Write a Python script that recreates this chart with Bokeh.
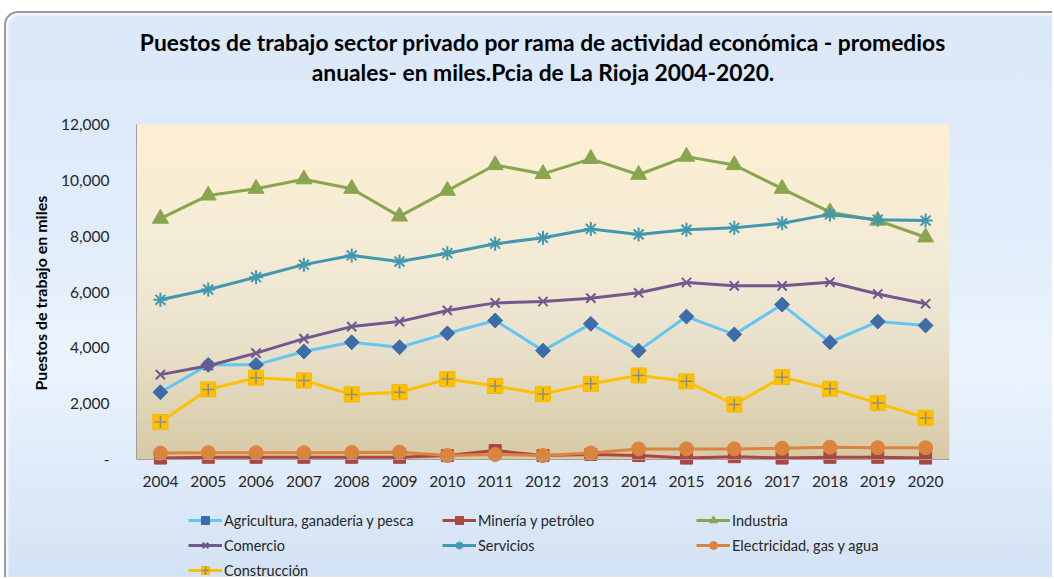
from bokeh.plotting import figure
from bokeh.models import (Range1d, BoxAnnotation, Legend, LegendItem, Title,
                          NumeralTickFormatter, FixedTicker)
from bokeh.embed import file_html
from bokeh.resources import INLINE

years = ["2004", "2005", "2006", "2007", "2008", "2009", "2010", "2011", "2012",
         "2013", "2014", "2015", "2016", "2017", "2018", "2019", "2020"]

agricultura = [2410, 3390, 3390, 3870, 4200, 4020, 4520, 4980, 3900, 4860, 3900,
               5120, 4480, 5550, 4200, 4940, 4800]
mineria = [50, 80, 80, 80, 80, 80, 140, 320, 140, 180, 140, 50, 100, 50, 80, 80, 50]
industria = [8630, 9460, 9700, 10040, 9700, 8710, 9630, 10550, 10230, 10770, 10200,
             10850, 10550, 9700, 8860, 8560, 7960]
comercio = [3040, 3360, 3810, 4330, 4760, 4940, 5340, 5610, 5660, 5780, 5970,
            6340, 6220, 6220, 6350, 5930, 5580]
servicios = [5720, 6090, 6530, 6980, 7310, 7090, 7390, 7730, 7940, 8260, 8060,
             8230, 8300, 8460, 8780, 8590, 8560]
electricidad = [230, 240, 240, 240, 250, 260, 140, 180, 140, 230, 380, 380, 380,
                400, 440, 420, 420]
construccion = [1340, 2510, 2930, 2830, 2330, 2410, 2880, 2630, 2350, 2710, 3010,
                2800, 1970, 2950, 2530, 2020, 1490]

y_ticks = [0, 2000, 4000, 6000, 8000, 10000, 12000]
y_max = 12000
title_lines = ["Puestos de trabajo sector privado por rama de actividad económica - promedios",
               "anuales- en miles.Pcia de La Rioja 2004-2020."]
y_label = "Puestos de trabajo en miles"

series = [
    ("Agricultura, ganadería y pesca", agricultura, "#63C6F2", "#3E6CA8"),
    ("Minería y petróleo", mineria, "#AA4643", "#AA4643"),
    ("Industria", industria, "#89A54E", "#89A54E"),
    ("Comercio", comercio, "#71588F", "#71588F"),
    ("Servicios", servicios, "#4198AF", "#4198AF"),
    ("Electricidad, gas y agua", electricidad, "#DB843D", "#DB843D"),
    ("Construcción", construccion, "#FFC000", "#FFC000"),
]

FONT = "Lato"

# layout geometry (pixels): plot area 335 px tall, 120 px of room below zero
AREA_H = 335
BELOW = 120
y_start = -y_max * BELOW / AREA_H

p = figure(width=1048, height=566, x_range=years, y_range=Range1d(y_start, y_max),
           output_backend="svg", toolbar_location=None,
           min_border_left=130, min_border_right=105, min_border_top=111,
           min_border_bottom=0)
p.styles = {"margin-left": "4px", "margin-top": "11px",
            "background": "linear-gradient(to bottom, #dbe8f8 0%, #e2edfb 40%, #ebf4fe 62%, #d3e2f5 100%)",
            "border-left": "2px solid #9c9c9c", "border-top": "2px solid #9c9c9c",
            "border-top-left-radius": "14px",
            "box-shadow": "inset 2px 2px 3px rgba(255,255,255,0.8)"}
p.border_fill_alpha = 0
p.background_fill_alpha = 0
p.outline_line_color = None

# plot-area gradient (style only)
stops = [(0.0, (214, 201, 165)), (0.35, (233, 225, 203)), (0.6, (243, 235, 214)),
         (1.0, (253, 239, 211))]
nb = 60
for i in range(nb):
    f = (i + 0.5) / nb
    for j in range(len(stops) - 1):
        if stops[j][0] <= f <= stops[j + 1][0]:
            t = (f - stops[j][0]) / (stops[j + 1][0] - stops[j][0])
            c = tuple(int(round(stops[j][1][k] + t * (stops[j + 1][1][k] - stops[j][1][k]))) for k in range(3))
            break
    lo = y_max * i / nb
    hi = min(y_max, y_max * (i + 1) / nb + 30)
    p.add_layout(BoxAnnotation(bottom=lo, top=hi, fill_color="#%02x%02x%02x" % c,
                               fill_alpha=1, line_alpha=0, level="underlay"))

p.grid.grid_line_color = None
p.ygrid.grid_line_color = "#8C8C8C"
p.ygrid.grid_line_width = 1
p.ygrid.ticker = FixedTicker(ticks=y_ticks[1:])
p.yaxis.ticker = FixedTicker(ticks=y_ticks)
p.yaxis.formatter = NumeralTickFormatter(format="0,0")
p.yaxis.major_label_overrides = {0: "-"}
p.yaxis.bounds = (0, y_max)
p.xaxis.fixed_location = 0

for ax in (p.xaxis[0], p.yaxis[0]):
    ax.axis_line_color = "#A0A0A0"
    ax.major_tick_line_color = None
    ax.minor_tick_line_color = None
    ax.major_tick_out = 0
    ax.major_tick_in = 0
    ax.major_label_text_font = FONT
    ax.major_label_text_font_size = "15.5px"
    ax.major_label_text_color = "#262626"
p.yaxis.major_label_standoff = 27
p.xaxis.major_label_standoff = 16

p.add_layout(Title(text=y_label, align="left", offset=189, vertical_align="bottom",
                   standoff=18, text_font=FONT, text_font_style="bold",
                   text_font_size="16px", text_color="#000000"), "left")

items = {}
for name, vals, lc, fc in series:
    rs = [p.line(years, vals, line_color=lc, line_width=3)]
    if name.startswith("Agricultura"):
        rs.append(p.scatter(years, vals, marker="square", angle=0.785398, size=10.5,
                            fill_color=fc, line_color=fc))
    elif name.startswith("Minería"):
        rs.append(p.scatter(years, vals, marker="square", size=12, fill_color=fc, line_color=fc))
    elif name == "Industria":
        rs.append(p.scatter(years, vals, marker="triangle", size=16, fill_color=fc, line_color=fc))
    elif name == "Comercio":
        rs.append(p.scatter(years, vals, marker="x", size=13, line_color=fc, line_width=2))
    elif name == "Servicios":
        rs.append(p.scatter(years, vals, marker="asterisk", size=14, line_color=fc, line_width=2))
    elif name.startswith("Electricidad"):
        rs.append(p.scatter(years, vals, marker="circle", size=14, fill_color=fc, line_color=fc))
    else:
        rs.append(p.scatter(years, vals, marker="square", size=15, fill_color=fc, line_color="#F5B800"))
        rs.append(p.scatter(years, vals, marker="cross", size=12, line_color="#8C8C8C", line_width=1.5))
    items[name] = LegendItem(label=name, renderers=rs)

legend = Legend(items=[items[s[0]] for s in series], location=(52, -1),
                orientation="horizontal", ncols=3, padding=0, margin=0, spacing=5,
                glyph_width=34, glyph_height=20, label_height=20, label_width=213,
                label_standoff=2, label_text_font=FONT,
                label_text_font_size="14.5px", label_text_color="#262626",
                background_fill_alpha=0, border_line_color=None)
p.add_layout(legend, "center")

# titles stacked above the frame (spacer closest to frame)
p.add_layout(Title(text=" ", text_font_size="10px", standoff=26), "above")
for line in reversed(title_lines):
    p.add_layout(Title(text=line, align="center", text_font=FONT, text_font_style="bold",
                       text_font_size="22.8px", text_color="#000000", standoff=0), "above")

open("out.html", "w").write(file_html(p, INLINE))
